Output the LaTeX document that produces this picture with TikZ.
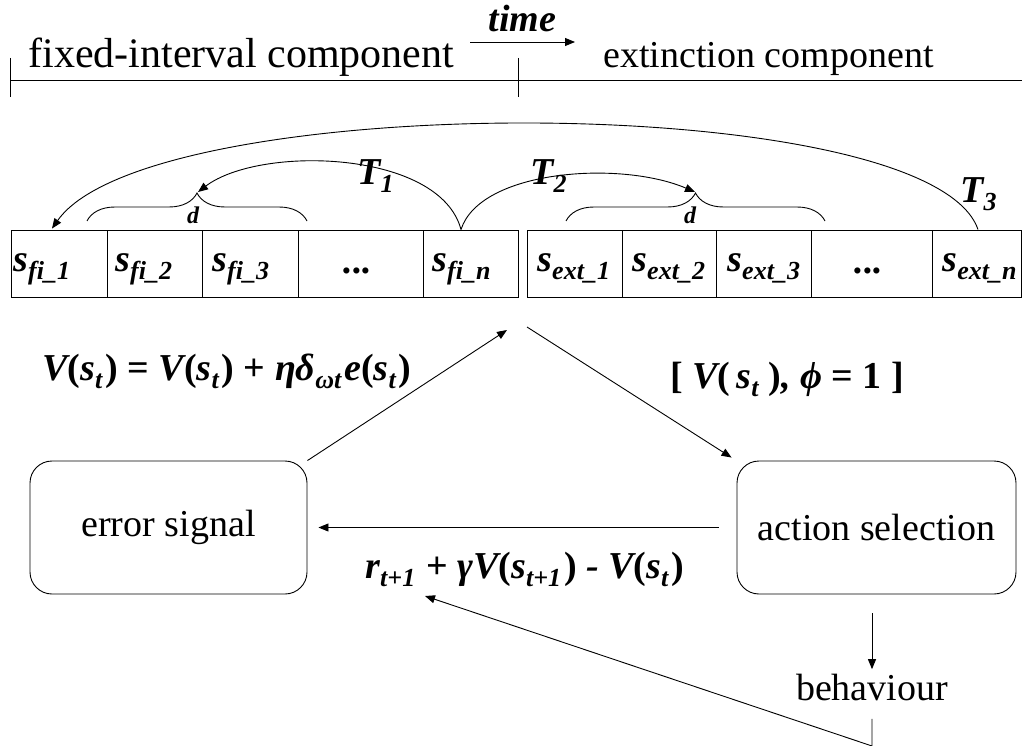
\documentclass[tikz,border=0pt]{standalone}
\usepackage{fontspec}
\setmainfont{Liberation Serif}
\usetikzlibrary{arrows.meta,decorations.pathreplacing,calc}
\newcommand\lowsub[1]{\raisebox{-8pt}{\fontsize{26}{26}\selectfont #1}}
\newcommand\lsub[1]{\lowsub{#1}\kern3pt}
\newcommand\up[1]{{\upshape #1}}
\begin{document}
\begin{tikzpicture}[x=1pt,y=-1pt,line width=0.9pt,
  arr/.style={-{Triangle[length=10pt,width=8pt]}},
  txt/.style={font=\fontsize{38}{44}\selectfont, inner sep=0pt},
  mth/.style={font=\fontsize{38}{44}\selectfont\bfseries\itshape, inner sep=0pt},
  dlab/.style={font=\fontsize{24}{28}\selectfont\bfseries\itshape, inner sep=0pt},
  cell/.style={draw, minimum height=67pt, inner sep=0pt},
  rbox/.style={draw, rounded corners=22pt, minimum height=133pt, inner sep=0pt, font=\fontsize{38}{44}\selectfont},
  brc/.style={decorate, decoration={brace, amplitude=28pt}},
]
\useasboundingbox (0,0) rectangle (1022,746);
% header
\node[txt, font=\fontsize{42}{48}\selectfont, anchor=base west] (fic) at (28,68) {fixed-interval component};
\node[txt, anchor=base west] (exc) at (603,68) {extinction component};
\node[mth, anchor=base west] (time) at (488,32) {time};
\coordinate (hl) at (10,80); \coordinate (hr) at (1022,80);
\draw (hl) -- (hr);
\draw (10,58) -- (10,97);
\draw (518,58) -- (518,97);
\coordinate (ts) at (470,42); \coordinate (te) at (575,42);
\draw[arr] (ts) -- (te);
% cells
\node[cell, minimum width=96pt] (c1) at (59,263.5) {};
\node[cell, minimum width=95pt] (c2) at (154.5,263.5) {};
\node[cell, minimum width=96pt] (c3) at (250,263.5) {};
\node[cell, minimum width=125pt] (c4) at (360.5,263.5) {};
\node[cell, minimum width=95pt] (c5) at (470.5,263.5) {};
\node[cell, minimum width=95pt] (e1) at (574.5,263.5) {};
\node[cell, minimum width=94pt] (e2) at (669,263.5) {};
\node[cell, minimum width=95pt] (e3) at (763.5,263.5) {};
\node[cell, minimum width=121pt] (e4) at (871.5,263.5) {};
\node[cell, minimum width=89pt] (e5) at (976.5,263.5) {};
\node[mth, anchor=base west] (l1) at (13,271) {s\lowsub{fi\_1}};
\node[mth, anchor=base west] (l2) at (115,271) {s\lowsub{fi\_2}};
\node[mth, anchor=base west] (l3) at (212,271) {s\lowsub{fi\_3}};
\node[mth, anchor=base] (l4) at (358,273) {...};
\node[mth, anchor=base west] (l5) at (432,271) {s\lowsub{fi\_n}};
\node[mth, anchor=base west] (m1) at (537,271) {s\lowsub{ext\_1}};
\node[mth, anchor=base west] (m2) at (632,271) {s\lowsub{ext\_2}};
\node[mth, anchor=base west] (m3) at (727,271) {s\lowsub{ext\_3}};
\node[mth, anchor=base] (m4) at (869,273) {...};
\node[mth, anchor=base west] (m5) at (942,271) {s\lowsub{ext\_n}};
% braces
\draw[brc] (87,221) -- (307,221);
\draw[brc] (566,221) -- (825,221);
\coordinate (dl) at (198,192);
\coordinate (dr) at (695,192);
\node[dlab, anchor=base] (d1) at (193,223) {d};
\node[dlab, anchor=base] (d2) at (690,223) {d};
% arcs
\coordinate (t1s) at ($(c5.north)+(-9.5,0)$);
\coordinate (t3s) at ($(e5.north)+(1.5,0)$);
\coordinate (t3e) at ($(c1.north)+(-7,-1)$);
\draw[arr] (t1s) .. controls (440,150) and (260,145) .. (dl);
\draw[arr] (t1s) .. controls (480,170) and (620,160) .. (dr);
\draw[arr] (t3s) .. controls (930,89) and (150,89) .. (t3e);
\node[mth, anchor=base west] (T1) at (357,185) {T\lowsub{1}};
\node[mth, anchor=base west] (T2) at (530,185) {T\lowsub{2}};
\node[mth, anchor=base west] (T3) at (960,203) {T\lowsub{3}};
% formulas
\node[mth, anchor=base west] (f1) at (42,380) {V\up{(}s\lsub{t}\up{)} \up{=} V\up{(}s\lsub{t}\up{)} \up{+} ηδ\lsub{ωt}e\up{(}s\lsub{t}\up{)}};
\node[mth, anchor=base west] (f2) at (670,388) {\up{[} V\up{(}\hspace{6pt}s\lsub{t}\hspace{7pt}\up{)}, ϕ \up{= 1 ]}};
\node[mth, anchor=base west] (f3) at (365,578) {r\lsub{t+1}\hspace{8pt}\up{+} γV\up{(}s\lsub{t+1}\up{)} - V\up{(}s\lsub{t}\up{)}};
% boxes
\node[rbox, minimum width=277pt] (err) at (168.5,527.5) {error signal};
\node[rbox, minimum width=279pt] (act) at (876.5,527.5) {action selection};
\node[txt, inner sep=4pt] (beh) at (872,687) {behaviour};
% connectors
\coordinate (upin) at (507,330);
\coordinate (upout) at (527,327);
\coordinate (bcorner) at (872,746);
\coordinate (rtip) at (425,596);
\draw[arr] (err.north east) -- (upin);
\draw[arr] (upout) -- ($(act.north west)+(-5,-3)$);
\draw[arr] ($(act.west)+(-18,0)$) -- ($(err.east)+(11,0)$);
\draw[arr] ($(beh.north|-act.south)+(0,19)$) -- (beh.north);
\draw[arr] ($(beh.south)+(0,14)$) -- (bcorner) -- (rtip);
\end{tikzpicture}
\end{document}
